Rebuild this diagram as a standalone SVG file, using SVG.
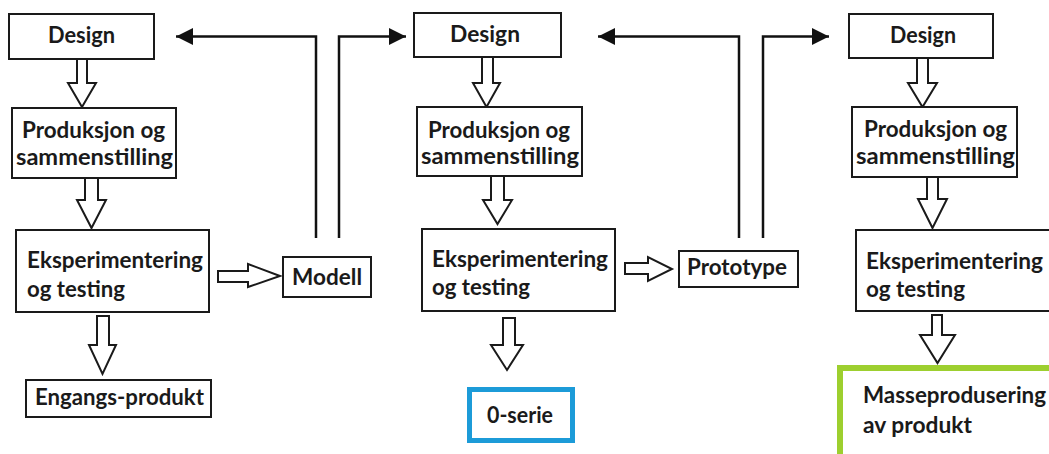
<svg xmlns="http://www.w3.org/2000/svg" width="1049" height="454" viewBox="0 0 1049 454">
<style>
.box{fill:#fff;stroke:#1a1a1a;stroke-width:2}
.harrow{fill:#fff;stroke:#1a1a1a;stroke-width:2;stroke-linejoin:miter}
.t{font-family:Lato,"Open Sans","Liberation Sans",sans-serif;font-weight:bold;font-size:22px;fill:#1a1a1a}
.fb{fill:none;stroke:#111;stroke-width:2.5}
</style>
<defs>
<marker id="ah" viewBox="0 0 17 17" markerWidth="17" markerHeight="17" markerUnits="userSpaceOnUse" refX="17" refY="8.5" orient="auto">
<path d="M0,0 L17,8.5 L0,17 Z" fill="#111"/>
</marker>
</defs>
<rect width="1049" height="454" fill="#fff"/>

<g id="connectors">
<path class="fb" d="M316,238 V36.5 H176" marker-end="url(#ah)"/>
<path class="fb" d="M339,238 V36.5 H406" marker-end="url(#ah)"/>
<path class="fb" d="M739,238 V36.5 H598" marker-end="url(#ah)"/>
<path class="fb" d="M763,238 V36.5 H829" marker-end="url(#ah)"/>
<polygon class="harrow" points="77,59 87,59 87,83 96,83 82,107 68,83 77,83"/>
<polygon class="harrow" points="85,178 98,178 98,200 106,200 91.5,228 77,200 85,200"/>
<polygon class="harrow" points="97,316 109,316 109,345 116,345 102.5,374 89,345 97,345"/>
<polygon class="harrow" points="218,271 248,271 248,264 280,276 248,287 248,282 218,282"/>
<polygon class="harrow" points="482,57 493,57 493,83 500,83 486.5,107 473,83 482,83"/>
<polygon class="harrow" points="491,176 504,176 504,200 512,200 497.5,224 483,200 491,200"/>
<polygon class="harrow" points="503,318 515,318 515,345 523,345 507,370 491,345 503,345"/>
<polygon class="harrow" points="625,263 648,263 648,257 672,269 648,281 648,274 625,274"/>
<polygon class="harrow" points="917,58 928,58 928,83 937,83 922.5,107 908,83 917,83"/>
<polygon class="harrow" points="927,177 938,177 938,199 947,199 932.5,228 918,199 927,199"/>
<polygon class="harrow" points="932,315 942,315 942,335 955,335 937.5,363 920,335 932,335"/>
</g>

<g id="design1"><rect class="box" x="9" y="14" width="145" height="45"/><text class="t" x="48" y="43" textLength="67" lengthAdjust="spacingAndGlyphs">Design</text></g>
<g id="prod1"><rect class="box" x="12" y="108" width="164" height="70"/><text class="t" x="22" y="138" textLength="143" lengthAdjust="spacingAndGlyphs">Produksjon og</text><text class="t" x="16" y="165" textLength="157" lengthAdjust="spacingAndGlyphs">sammenstilling</text></g>
<g id="eksp1"><rect class="box" x="16" y="230" width="193" height="82"/><text class="t" x="27" y="268" textLength="176" lengthAdjust="spacingAndGlyphs">Eksperimentering</text><text class="t" x="27" y="297" textLength="98" lengthAdjust="spacingAndGlyphs">og testing</text></g>
<g id="engangs"><rect class="box" x="26" y="380" width="185" height="37"/><text class="t" x="35" y="405" textLength="169" lengthAdjust="spacingAndGlyphs">Engangs-produkt</text></g>
<g id="modell"><rect class="box" x="283" y="257" width="88" height="40"/><text class="t" x="292" y="285" textLength="70" lengthAdjust="spacingAndGlyphs">Modell</text></g>

<g id="design2"><rect class="box" x="414" y="13" width="147" height="44"/><text class="t" x="450" y="42" textLength="70" lengthAdjust="spacingAndGlyphs">Design</text></g>
<g id="prod2"><rect class="box" x="417" y="107" width="165" height="69"/><text class="t" x="428" y="138" textLength="142" lengthAdjust="spacingAndGlyphs">Produksjon og</text><text class="t" x="421" y="164" textLength="158" lengthAdjust="spacingAndGlyphs">sammenstilling</text></g>
<g id="eksp2"><rect class="box" x="422" y="229" width="193" height="82"/><text class="t" x="432" y="267" textLength="176" lengthAdjust="spacingAndGlyphs">Eksperimentering</text><text class="t" x="432" y="295" textLength="98" lengthAdjust="spacingAndGlyphs">og testing</text></g>
<g id="nullserie"><rect x="469.5" y="389.5" width="103" height="51" fill="#fff" stroke="#1c9bd8" stroke-width="5"/><text class="t" x="487" y="423" textLength="66" lengthAdjust="spacingAndGlyphs">0-serie</text></g>
<g id="prototype"><rect class="box" x="679" y="251" width="119" height="36"/><text class="t" x="687" y="275" textLength="100" lengthAdjust="spacingAndGlyphs">Prototype</text></g>

<g id="design3"><rect class="box" x="849" y="14" width="144" height="44"/><text class="t" x="890" y="43" textLength="66" lengthAdjust="spacingAndGlyphs">Design</text></g>
<g id="prod3"><rect class="box" x="852" y="107" width="165" height="70"/><text class="t" x="864" y="137" textLength="143" lengthAdjust="spacingAndGlyphs">Produksjon og</text><text class="t" x="856" y="164" textLength="159" lengthAdjust="spacingAndGlyphs">sammenstilling</text></g>
<g id="eksp3"><rect class="box" x="856" y="230" width="196" height="81"/><text class="t" x="866" y="269" textLength="177" lengthAdjust="spacingAndGlyphs">Eksperimentering</text><text class="t" x="866" y="297" textLength="99" lengthAdjust="spacingAndGlyphs">og testing</text></g>
<g id="masse"><rect x="840" y="368" width="230" height="110" fill="#fff" stroke="#9dcf2f" stroke-width="6"/><text class="t" x="863" y="403" textLength="183" lengthAdjust="spacingAndGlyphs">Masseprodusering</text><text class="t" x="863" y="433" textLength="109" lengthAdjust="spacingAndGlyphs">av produkt</text></g>
</svg>
